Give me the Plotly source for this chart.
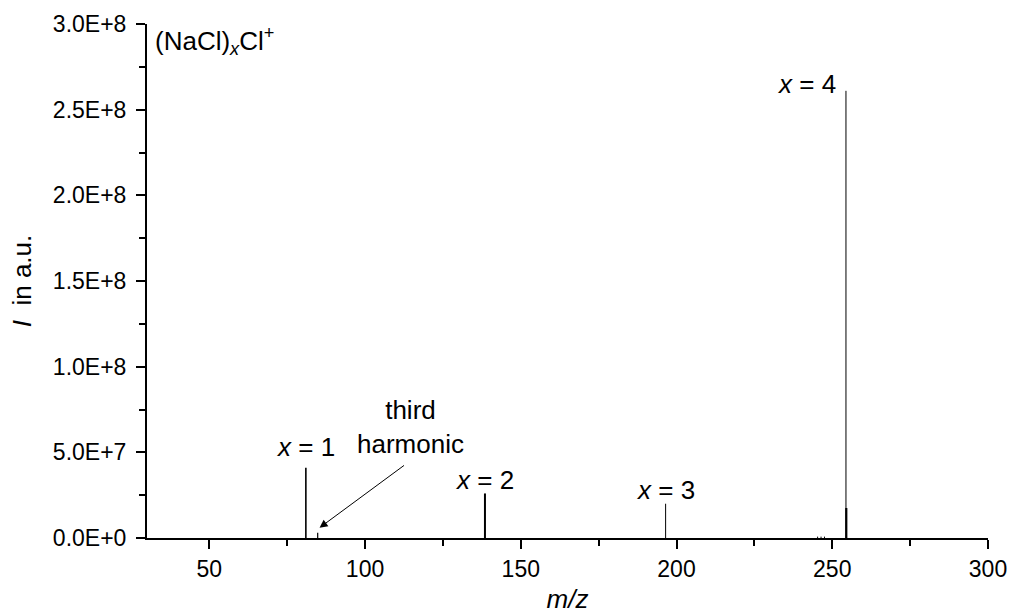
import plotly.graph_objects as go

# Peak data (m/z, intensity)
peak_mz = [81.0, 84.8, 138.5, 196.5, 254.4, 254.5, 245.3, 246.4, 247.5]
peak_int = [4.1e7, 3.0e6, 2.6e7, 2.0e7, 2.61e8, 1.75e7, 8.0e5, 8.0e5, 8.0e5]
peak_width = [1.6, 1.2, 2.0, 1.0, 1.0, 2.2, 1.0, 1.0, 1.0]

y_tick_vals = [0, 5e7, 1e8, 1.5e8, 2e8, 2.5e8, 3e8]
y_tick_text = ["0.0E+0", "5.0E+7", "1.0E+8", "1.5E+8", "2.0E+8", "2.5E+8", "3.0E+8"]
x_tick_vals = [50, 100, 150, 200, 250, 300]

labels = ["<i>x</i> = 1", "<i>x</i> = 2", "<i>x</i> = 3", "<i>x</i> = 4"]
label_mz = [81.0, 138.5, 196.5, 251.8]
label_y = [5.3e7, 3.38e7, 2.8e7, 2.65e8]
label_anchor = ["center", "center", "center", "right"]

FONT = "Liberation Sans, Arial, sans-serif"

fig = go.Figure()
for mz, inten, w in zip(peak_mz, peak_int, peak_width):
    fig.add_trace(go.Scatter(x=[mz, mz], y=[0, inten], mode="lines",
                             line=dict(color="black", width=w),
                             showlegend=False, hoverinfo="skip"))

for t, mx, my, anc in zip(labels, label_mz, label_y, label_anchor):
    fig.add_annotation(x=mx, y=my, text=t, showarrow=False,
                       font=dict(family=FONT, size=26, color="black"),
                       xanchor=anc, yanchor="middle")

fig.add_annotation(x=32, y=2.9e8, text="(NaCl)<sub><i>x</i></sub>Cl<sup>+</sup>",
                   showarrow=False, xanchor="left", yanchor="middle",
                   font=dict(family=FONT, size=26, color="black"))

fig.add_annotation(x=114.5, y=6.5e7, text="third<br>harmonic", showarrow=False,
                   xanchor="center", yanchor="middle",
                   font=dict(family=FONT, size=26, color="black"))

fig.add_annotation(x=85.4, y=6.0e6, ax=113.0, ay=4.3e7, axref="x", ayref="y",
                   xref="x", yref="y", text="", showarrow=True,
                   arrowhead=2, arrowsize=1.6, arrowwidth=1, arrowcolor="black")

fig.update_layout(
    width=1010, height=614,
    margin=dict(l=147, r=22, t=24, b=76, autoexpand=False),
    paper_bgcolor="white", plot_bgcolor="white",
    font=dict(family=FONT, size=23, color="black"),
    xaxis=dict(range=[30, 300], tickvals=x_tick_vals, ticks="outside", ticklen=9,
               tickwidth=2, tickcolor="black", showline=True, linecolor="black",
               linewidth=2, showgrid=False, zeroline=False, automargin=False,
               tickfont=dict(family=FONT, size=23),
               minor=dict(tickvals=[75, 125, 175, 225, 275], ticks="outside",
                          ticklen=6, tickwidth=2, tickcolor="black"),
               title=dict(text="<i>m/z</i>", font=dict(family=FONT, size=26), standoff=10)),
    yaxis=dict(range=[0, 3e8], tickvals=y_tick_vals, ticktext=y_tick_text,
               ticks="outside", ticklen=9, tickwidth=2, tickcolor="black",
               showline=True, linecolor="black", linewidth=2, showgrid=False,
               zeroline=False, automargin=False, ticklabelstandoff=5,
               tickfont=dict(family=FONT, size=23),
               minor=dict(tickvals=[2.5e7, 7.5e7, 1.25e8, 1.75e8, 2.25e8, 2.75e8],
                          ticks="outside", ticklen=6, tickwidth=2, tickcolor="black"),
               title=dict(text="<i>I</i>  in a.u.", font=dict(family=FONT, size=26), standoff=14)),
)

fig.write_html("out.html")
